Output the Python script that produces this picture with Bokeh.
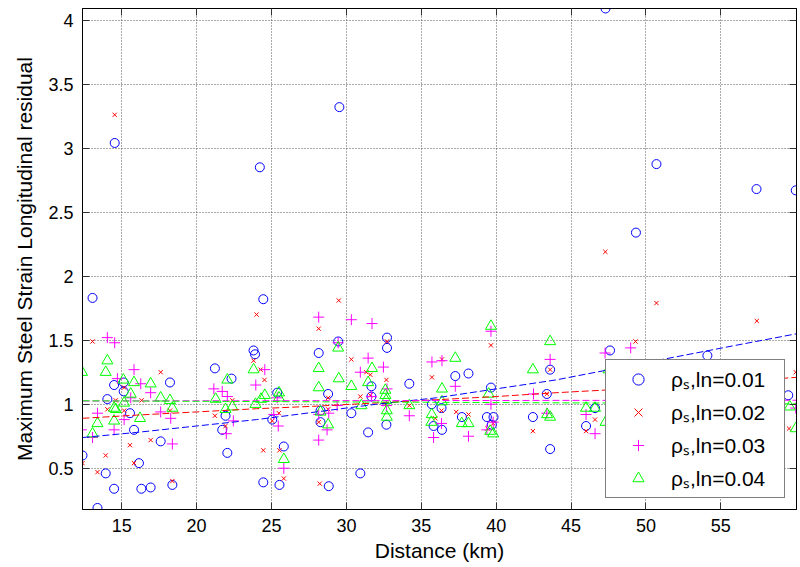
from bokeh.plotting import figure
from bokeh.models import Range1d, FixedTicker, LinearAxis, Legend, LegendItem, CustomLabelingPolicy
from bokeh.embed import file_html
from bokeh.resources import INLINE

# ---- data ----
dist_s1 = [12.38, 13.05, 13.38, 13.93, 14.04, 14.49, 14.49, 14.53, 15.13, 15.13, 15.55, 15.82,
           16.15, 16.31, 16.93, 17.6, 18.22, 18.38, 21.22, 21.71, 21.93, 22.05, 22.33, 23.8,
           23.9, 24.22, 24.45, 24.45, 25.05, 25.38, 25.53, 25.82, 28.15, 28.27, 28.27, 28.78,
           28.82, 29.45, 29.53, 30.33, 30.93, 31.45, 31.67, 31.67, 32.67, 32.71, 32.71, 34.2,
           35.7, 35.82, 36.35, 36.38, 37.27, 37.71, 38.15, 39.38, 39.65, 39.71, 39.82, 42.45,
           43.38, 43.6, 43.6, 46.0, 46.6, 47.3, 47.6, 49.33, 50.7, 54.1, 57.38, 59.5, 60.0]
resid_s1 = [0.60, 1.83, 0.19, 0.46, 1.04, 1.15, 0.34, 3.04, 1.17, 1.10, 0.93, 0.80,
            0.54, 0.34, 0.35, 0.71, 1.17, 0.37, 1.28, 0.80, 0.91, 0.62, 1.20, 1.42,
            1.39, 2.85, 1.82, 0.39, 0.88, 1.09, 0.37, 0.67, 1.40, 0.95, 0.86, 1.08,
            0.36, 1.49, 3.32, 0.93, 0.46, 0.78, 1.14, 1.06, 0.84, 1.52, 1.44, 1.16,
            1.00, 0.83, 0.97, 0.80, 1.22, 0.90, 1.24, 0.90, 1.13, 0.84, 0.90, 0.90,
            1.08, 1.27, 0.65, 0.83, 0.97, 4.09, 1.42, 2.34, 2.875, 1.38, 2.68, 1.07, 2.67]

dist_s2 = [12.38, 13.05, 13.38, 13.93, 14.04, 14.53, 14.6, 15.16, 15.16, 15.55, 15.82, 16.33,
           16.93, 17.6, 18.22, 18.38, 21.22, 21.93, 22.38, 23.8, 24.0, 24.27, 24.45, 24.53,
           25.05, 25.49, 25.53, 25.82, 28.15, 28.15, 28.22, 28.78, 28.78, 29.49, 30.33, 30.93,
           31.33, 31.6, 31.6, 32.6, 32.67, 32.71, 34.2, 35.71, 35.93, 36.35, 36.38, 37.33,
           38.15, 39.42, 39.65, 39.8, 42.45, 43.38, 43.6, 46.0, 46.6, 47.29, 49.3, 50.7,
           57.4, 59.55, 60.0]
resid_s2 = [0.54, 1.49, 0.47, 0.60, 0.96, 3.26, 1.03, 1.13, 0.95, 0.68, 0.54, 1.03,
            0.72, 1.25, 0.95, 0.40, 0.91, 0.83, 1.03, 1.34, 1.70, 1.27, 0.64, 1.19,
            0.87, 0.93, 0.64, 0.42, 1.59, 0.86, 0.38, 1.05, 0.96, 1.81, 1.35, 1.06,
            1.25, 1.23, 1.07, 1.00, 1.19, 1.49, 0.99, 1.21, 0.89, 0.95, 1.35, 0.94,
            0.92, 0.81, 1.46, 0.85, 0.79, 1.08, 1.27, 0.79, 0.88, 2.19, 1.49, 1.79,
            1.65, 0.81, 1.25]

dist_s3 = [12.3, 13.05, 13.38, 14.04, 14.53, 14.49, 14.71, 15.16, 15.6, 15.82, 16.27, 16.93,
           17.6, 18.27, 18.38, 21.15, 21.71, 22.05, 21.98, 22.45, 23.95, 24.55, 25.15, 25.38,
           25.45, 25.82, 28.15, 28.15, 28.15, 28.71, 28.82, 29.38, 29.45, 30.33, 30.93, 31.45,
           31.67, 31.71, 32.47, 32.71, 32.67, 34.2, 35.71, 35.82, 36.35, 36.38, 37.27, 38.15,
           39.38, 39.65, 39.65, 39.8, 42.49, 43.38, 43.6, 46.0, 46.6, 47.27, 48.98, 60.0]
resid_s3 = [0.80, 0.74, 0.93, 1.52, 1.48, 0.80, 1.20, 0.88, 1.05, 1.27, 1.16, 1.09,
            0.94, 0.89, 0.69, 1.12, 1.10, 1.06, 0.77, 0.87, 1.15, 1.27, 0.92, 1.05,
            0.83, 0.50, 1.68, 0.92, 0.72, 0.80, 0.93, 0.99, 1.48, 1.66, 1.25, 1.36,
            1.06, 1.63, 1.29, 1.12, 0.99, 0.91, 1.33, 0.74, 0.85, 1.34, 1.14, 0.75,
            0.80, 1.57, 1.00, 0.86, 1.08, 0.93, 1.35, 0.92, 0.77, 1.40, 1.44, 0.97]

dist_s4 = [12.35, 13.05, 13.38, 13.93, 14.04, 14.49, 14.49, 14.6, 15.11, 15.16, 15.6, 15.82,
           16.22, 16.93, 17.6, 18.22, 18.38, 21.27, 21.93, 22.05, 22.38, 23.8, 23.93, 24.3,
           24.55, 25.5, 25.5, 25.82, 28.15, 28.15, 28.27, 28.78, 29.45, 29.49, 30.33, 31.0,
           31.45, 31.71, 32.6, 32.6, 32.65, 32.7, 32.7, 34.2, 35.67, 35.7, 36.38, 36.38,
           37.27, 37.7, 38.15, 39.5, 39.6, 39.65, 39.8, 42.45, 43.4, 43.6, 43.6, 46.0,
           46.6, 47.3, 47.5, 59.6, 60.0]
resid_s4 = [1.25, 0.77, 0.85, 1.25, 1.34, 0.97, 0.87, 0.96, 1.19, 1.01, 1.08, 1.17,
            0.89, 1.16, 1.05, 1.03, 0.97, 1.04, 0.96, 1.19, 0.98, 1.27, 1.00, 1.04,
            1.07, 1.09, 1.05, 0.57, 1.28, 1.13, 0.94, 0.84, 1.44, 1.20, 1.14, 0.99,
            1.17, 1.28, 1.11, 1.07, 1.03, 0.95, 0.90, 0.99, 0.86, 0.92, 1.12, 1.02,
            1.36, 0.85, 0.85, 1.08, 0.79, 1.61, 0.77, 1.27, 0.92, 0.90, 1.49, 0.97,
            0.97, 0.86, 1.27, 0.98, 0.81]

# trend lines
fit_x = [12.38, 16, 20, 24, 28, 32, 36, 40, 44, 48, 52, 56, 60.05]
fit_s1 = [0.74, 0.78, 0.83, 0.88, 0.94, 1.00, 1.05, 1.12, 1.19, 1.28, 1.37, 1.46, 1.55]
fit_s2 = [0.89, 0.915, 0.94, 0.965, 0.985, 1.01, 1.035, 1.06, 1.09, 1.115, 1.14, 1.175, 1.21]
fit_s3 = [1.025, 1.026, 1.027, 1.027, 1.028, 1.028, 1.029, 1.029, 1.03, 1.03, 1.03, 1.031, 1.031]
fit_s4 = [1.027, 1.025, 1.023, 1.021, 1.019, 1.017, 1.015, 1.013, 1.011, 1.009, 1.007, 1.005, 1.003]

x_ticks = [15, 20, 25, 30, 35, 40, 45, 50, 55]
y_ticks = [0.5, 1, 1.5, 2, 2.5, 3, 3.5, 4]
series_labels = ["\u03c1\u209b,ln=0.01", "\u03c1\u209b,ln=0.02", "\u03c1\u209b,ln=0.03", "\u03c1\u209b,ln=0.04"]
x_label = "Distance (km)"
y_label = "Maximum Steel Strain Longitudinal residual"

FONT = "Liberation Sans"

p = figure(width=800, height=567, output_backend="svg", toolbar_location=None,
           x_range=Range1d(12.38, 60.05), y_range=Range1d(0.178, 4.09),
           min_border_left=82, min_border_right=3, min_border_top=8, min_border_bottom=58,
           background_fill_color="white", border_fill_color="white")
p.outline_line_color = "black"
p.outline_line_width = 1

for ax, ticks in ((p.xaxis[0], x_ticks), (p.yaxis[0], y_ticks)):
    ax.ticker = FixedTicker(ticks=ticks)
    ax.major_tick_in = 7
    ax.major_tick_out = 0
    ax.minor_tick_in = 0
    ax.minor_tick_out = 0
    ax.major_tick_line_color = "#333333"
    ax.axis_line_color = "black"
    ax.major_label_text_font = FONT
    ax.major_label_text_font_size = "18px"
    ax.major_label_text_color = "black"
    ax.axis_label_text_font = FONT
    ax.axis_label_text_font_size = "21px"
    ax.axis_label_text_font_style = "normal"
    ax.axis_label_text_color = "black"

p.xaxis[0].axis_label = x_label
p.xaxis[0].major_label_standoff = 9
p.xaxis[0].axis_label_standoff = 4
p.yaxis[0].axis_label = y_label
p.yaxis[0].major_label_standoff = 9
p.yaxis[0].axis_label_standoff = 9

# box ticks on top and right, without labels
no_labels = """
for (const i of indices) {
    indices.unset(i)
}
return indices
"""
for loc, ticks in (("right", y_ticks), ("above", x_ticks)):
    p.add_layout(LinearAxis(ticker=FixedTicker(ticks=ticks),
                            major_label_policy=CustomLabelingPolicy(code=no_labels),
                            major_label_text_font_size="1px",
                            major_label_standoff=0, major_tick_in=7, major_tick_out=0,
                            minor_tick_in=0, minor_tick_out=0, axis_line_color="black",
                            major_tick_line_color="#333333"), loc)

p.xgrid.ticker = FixedTicker(ticks=x_ticks)
p.ygrid.ticker = FixedTicker(ticks=y_ticks)
for g in (p.xgrid[0], p.ygrid[0]):
    g.grid_line_color = "#444444"
    g.grid_line_dash = "1 2"
    g.grid_line_width = 1
    g.grid_line_alpha = 0.9

r1 = p.scatter(dist_s1, resid_s1, marker="circle", size=9, fill_color=None,
               line_color="#0000ff", line_width=1)
r2 = p.scatter(dist_s2, resid_s2, marker="x", size=6, line_color="#ff0000", line_width=1)
r3 = p.scatter(dist_s3, resid_s3, marker="cross", size=11, line_color="#ff00ff", line_width=1)
r4 = p.scatter(dist_s4, resid_s4, marker="triangle", size=11, fill_color=None,
               line_color="#00ff00", line_width=1)

p.line(fit_x, fit_s1, line_color="#0000ff", line_dash="7 3", line_width=1)
p.line(fit_x, fit_s2, line_color="#ff0000", line_dash="7 3", line_width=1)
p.line(fit_x, fit_s3, line_color="#ff00ff", line_dash="7 3", line_width=1)
p.line(fit_x, fit_s4, line_color="#00ff00", line_dash="7 3", line_width=1)

legend = Legend(items=[LegendItem(label=series_labels[i], renderers=[r])
                       for i, r in enumerate((r1, r2, r3, r4))],
                location="bottom_right", margin=11, padding=5, spacing=5,
                glyph_width=54, glyph_height=28, label_standoff=6, label_width=108,
                label_text_font=FONT, label_text_font_size="21px", label_text_color="black",
                border_line_color="black", border_line_width=1,
                background_fill_color="white", background_fill_alpha=1.0)
p.add_layout(legend)

open("out.html", "w").write(file_html(p, INLINE))
